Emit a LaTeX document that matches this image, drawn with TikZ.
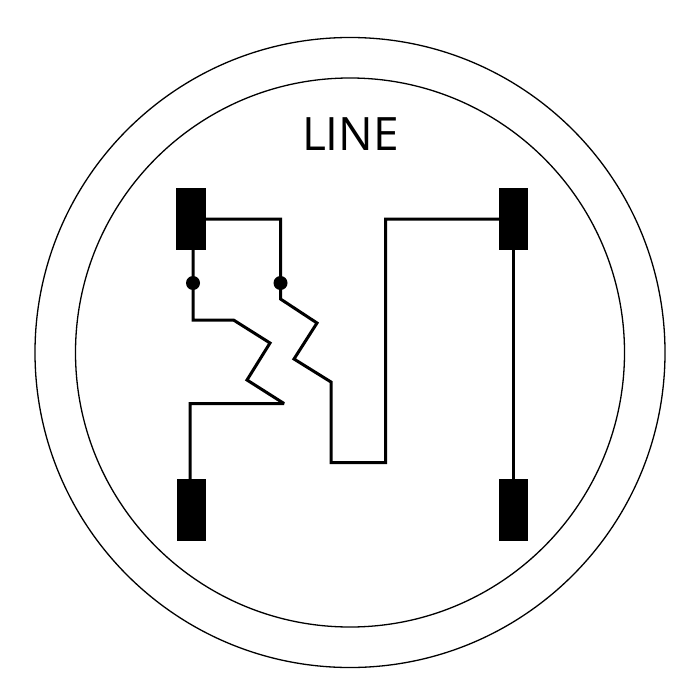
\documentclass[tikz,border=0pt]{standalone}
\usepackage{fontspec}
\setmainfont{Open Sans}
\tikzset{
  ring/.style={draw=black,line width=1.3bp,circle,minimum size=#1,inner sep=0pt,outer sep=0pt},
  terminal/.style={fill=black,draw=none,rectangle,minimum width=29.5bp,minimum height=61.5bp,inner sep=0pt,outer sep=0pt},
  wire/.style={draw=black,line width=3bp,line join=miter,miter limit=3},
  junction/.style={fill=black,draw=none,circle,minimum size=14bp,inner sep=0pt,outer sep=0pt}
}
\begin{document}
\begin{tikzpicture}[x=1bp,y=-1bp]
\useasboundingbox (0,0) rectangle (700,700);
\node[ring=630bp] (outer) at (350,352.5) {};
\node[ring=549bp] (inner) at (350,352.5) {};
\node[font=\fontsize{46bp}{50bp}\selectfont,inner sep=0pt] (title) at (350.5,134) {LINE};
\node[terminal] (tl) at (191,218.75) {};
\node[terminal] (tr) at (513.5,218.75) {};
\node[terminal] (bl) at (191.25,509.75) {};
\node[terminal] (br) at (513.5,509.75) {};
\node[junction] (j1) at (193,283) {};
\node[junction] (j2) at (280.5,283) {};
\coordinate (a0) at (193,320);
\coordinate (a1) at (233.5,320);
\coordinate (a2) at (270,343);
\coordinate (a3) at (247,380);
\coordinate (a4) at (284,403.5);
\coordinate (a5) at (190,403.5);
\coordinate (b0) at (280.5,219);
\coordinate (b1) at (280.5,299);
\coordinate (b2) at (317,323);
\coordinate (b3) at (294,359);
\coordinate (b4) at (331,382);
\coordinate (b5) at (331,462.5);
\coordinate (b6) at (385.5,462.5);
\coordinate (b7) at (385.5,219);
\draw[wire] (tl.south -| j1) -- (j1.center) -- (a0) -- (a1) -- (a2) -- (a3) -- (a4) -- (a5) -- (a5 |- bl.north);
\draw[wire] (b0 -| tl.east) -- (b0) -- (j2.center) -- (b1) -- (b2) -- (b3) -- (b4) -- (b5) -- (b6) -- (b7) -- (b7 -| tr.west);
\draw[wire] (tr.south) -- (br.north);
\end{tikzpicture}
\end{document}
